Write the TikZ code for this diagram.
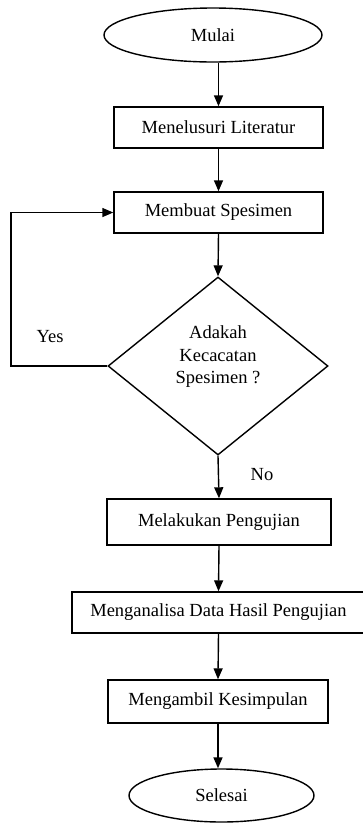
\documentclass[tikz,border=0pt]{standalone}
\usepackage{fontspec}
\setmainfont{Liberation Serif}
\usetikzlibrary{shapes.geometric,arrows.meta}
\begin{document}
\begin{tikzpicture}[x=1pt,y=-1pt,
  font=\fontsize{18.5}{22.5}\selectfont,
  box/.style={draw, line width=1.4pt, inner sep=0pt},
  term/.style={draw, ellipse, line width=1.4pt, inner sep=0pt},
  decision/.style={draw, diamond, line width=1.4pt, inner sep=0pt},
  arr/.style={line width=1.4pt, -{Triangle[width=9pt,length=11pt]}},
  lbl/.style={inner sep=0pt}]
\useasboundingbox (0,0) rectangle (363,823);
\node[term, minimum width=218pt, minimum height=54pt] (start) at (213,35) {Mulai};
\node[box, minimum width=209pt, minimum height=41pt] (lit) at (218.5,127.5) {Menelusuri Literatur};
\node[box, minimum width=209pt, minimum height=41pt] (spec) at (218.5,212.5) {Membuat Spesimen};
\node[decision, minimum width=220pt, minimum height=178pt] (dec) at (218,366) {};
\node[lbl, align=center] (dectext) at (218,357) {Adakah\\Kecacatan\\Spesimen ?};
\node[box, minimum width=224pt, minimum height=46pt] (test) at (219,522) {Melakukan Pengujian};
\node[box, minimum width=293pt, minimum height=41pt] (anal) at (218.5,612.5) {Menganalisa Data Hasil Pengujian};
\node[box, minimum width=220pt, minimum height=43pt] (conc) at (218,701.5) {Mengambil Kesimpulan};
\node[term, minimum width=185pt, minimum height=53pt] (stop) at (221.5,795.5) {Selesai};
\node[lbl] (yes) at (50,337) {Yes};
\node[lbl] (no) at (262,475) {No};
\coordinate (loopc) at (11,366);
\draw[arr] (lit.north |- start.south) -- (lit.north);
\draw[arr] (lit.south) -- (spec.north);
\draw[arr] (spec.south) -- (dec.north);
\draw[arr] (dec.south) -- (test.north);
\draw[arr] (test.south) -- (anal.north);
\draw[arr] (anal.south) -- (conc.north);
\draw[arr] (conc.south) -- (conc.south |- stop.north);
\draw[arr] (dec.west) -- (loopc) |- (spec.west);
\end{tikzpicture}
\end{document}
